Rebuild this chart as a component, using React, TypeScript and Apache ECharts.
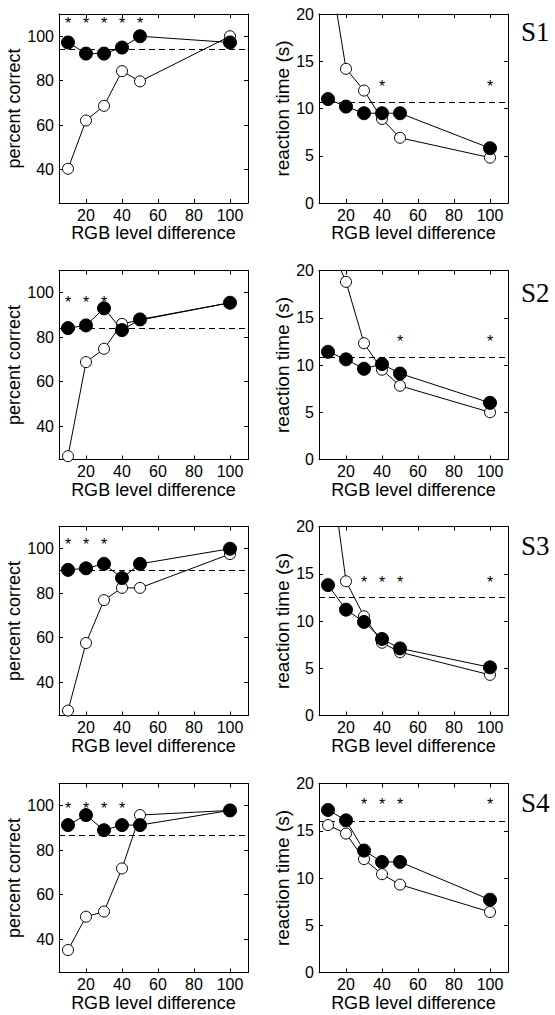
import React, { useEffect, useRef } from "react";
import * as echarts from "echarts";

const xLevels = [10, 20, 30, 40, 50, 100];
const xTicks = [20, 40, 60, 80, 100];
const accTicks = [40, 60, 80, 100];
const rtTicks = [0, 5, 10, 15, 20];
const subjects = ["S1", "S2", "S3", "S4"];

// percent correct
const accFilled = [
  [97.2, 92.2, 92.2, 94.9, 100, 97.2],
  [84.1, 85.3, 93.0, 83.2, 88.0, 95.5],
  [90.5, 91.2, 93.2, 86.8, 93.2, 100],
  [91.3, 95.8, 89.0, 91.3, 91.3, 97.9],
];
const accOpen = [
  [40.4, 62.1, 68.7, 84.3, 79.7, 100],
  [26.5, 68.8, 74.8, 86.0, 87.7, 95.5],
  [27.2, 57.6, 76.9, 82.4, 82.4, 97.6],
  [35.1, 50.1, 52.4, 71.8, 95.8, 97.9],
];
const accBaseline = [94.0, 84.1, 90.5, 86.9];
const accStarX = [
  [10, 20, 30, 40, 50],
  [10, 20, 30],
  [10, 20, 30],
  [10, 20, 30, 40],
];
const accStarY = [106.9, 97.0, 103.3, 100.0];

// reaction time
const rtFilled = [
  [11.0, 10.2, 9.5, 9.5, 9.5, 5.8],
  [11.4, 10.6, 9.6, 10.1, 9.1, 6.0],
  [13.8, 11.2, 9.9, 8.1, 7.1, 5.1],
  [17.2, 16.1, 12.9, 11.7, 11.7, 7.7],
];
const rtOpen = [
  [25.9, 14.2, 11.9, 8.9, 6.9, 4.8],
  [23.2, 18.8, 12.3, 9.5, 7.8, 5.0],
  [28.4, 14.2, 10.5, 7.7, 6.7, 4.3],
  [15.6, 14.7, 12.0, 10.4, 9.3, 6.4],
];
const rtBaseline = [10.7, 10.8, 12.5, 16.0];
const rtStarX = [
  [40, 100],
  [50, 100],
  [30, 40, 50, 100],
  [30, 40, 50, 100],
];
const rtStarY = [12.6, 12.8, 14.4, 18.1];

const gridTops = [14, 270.5, 526.5, 783.5];
const labelYs = [31.5, 293, 546, 803];
const FONT = "Liberation Sans";

function buildOption() {
  const grids: any[] = [];
  const xAxes: any[] = [];
  const yAxes: any[] = [];
  const series: any[] = [];
  const graphics: any[] = [];

  const tickStyle = { inside: true, length: 4, lineStyle: { color: "#000", width: 1 } };
  const lineStyle = { show: true, onZero: false, lineStyle: { color: "#000", width: 1 } };

  for (let r = 0; r < 4; r++) {
    for (let c = 0; c < 2; c++) {
      const g = grids.length;
      const isAcc = c === 0;
      grids.push({ left: isAcc ? 59 : 319, top: gridTops[r], width: 189, height: 189 });
      const ymin = isAcc ? 25 : 0;
      const ymax = isAcc ? 110 : 20;
      const yt = isAcc ? accTicks : rtTicks;
      xAxes.push({
        type: "value", gridIndex: g, min: 5, max: 110, position: "bottom",
        axisLine: lineStyle,
        axisTick: { ...tickStyle, customValues: xTicks },
        axisLabel: { customValues: xTicks, fontSize: 16, color: "#000", fontFamily: FONT, margin: 4 },
        splitLine: { show: false },
        name: "RGB level difference", nameLocation: "middle", nameGap: 21,
        nameTextStyle: { fontSize: 18, color: "#000", fontFamily: FONT },
      });
      xAxes.push({
        type: "value", gridIndex: g, min: 5, max: 110, position: "top",
        axisLine: lineStyle,
        axisTick: { ...tickStyle, customValues: xTicks },
        axisLabel: { show: false },
        splitLine: { show: false },
      });
      yAxes.push({
        type: "value", gridIndex: g, min: ymin, max: ymax, position: "left",
        axisLine: lineStyle,
        axisTick: { ...tickStyle, customValues: yt },
        axisLabel: { customValues: yt, fontSize: 16, color: "#000", fontFamily: FONT, margin: 5 },
        splitLine: { show: false },
        name: isAcc ? "percent correct" : "reaction time (s)", nameLocation: "middle",
        nameGap: isAcc ? 36 : 14,
        nameTextStyle: { fontSize: isAcc ? 18 : 19, color: "#000", fontFamily: FONT },
      });
      yAxes.push({
        type: "value", gridIndex: g, min: ymin, max: ymax, position: "right",
        axisLine: lineStyle,
        axisTick: { ...tickStyle, customValues: yt },
        axisLabel: { show: false },
        splitLine: { show: false },
      });
      const xi = g * 2;
      const yi = g * 2;
      const open = isAcc ? accOpen[r] : rtOpen[r];
      const filled = isAcc ? accFilled[r] : rtFilled[r];
      const base = isAcc ? accBaseline[r] : rtBaseline[r];
      const sx = isAcc ? accStarX[r] : rtStarX[r];
      const sy = isAcc ? accStarY[r] : rtStarY[r];
      series.push({
        type: "line", xAxisIndex: xi, yAxisIndex: yi, clip: true,
        data: xLevels.map((x, i) => [x, open[i]]),
        symbol: "circle", symbolSize: 11, showAllSymbol: true,
        lineStyle: { color: "#000", width: 1 },
        itemStyle: { color: "#fff", borderColor: "#000", borderWidth: 1 },
        z: 2,
      });
      series.push({
        type: "line", xAxisIndex: xi, yAxisIndex: yi, clip: true,
        data: xLevels.map((x, i) => [x, filled[i]]),
        symbol: "circle", symbolSize: 13, showAllSymbol: true,
        lineStyle: { color: "#000", width: 1 },
        itemStyle: { color: "#000", borderColor: "#000", borderWidth: 1 },
        z: 3,
        markLine: {
          silent: true, symbol: "none", label: { show: false },
          lineStyle: { color: "#000", width: 1, type: [6, 4] },
          data: [{ yAxis: base }],
          z: 1,
        },
      });
      series.push({
        type: "custom", xAxisIndex: xi, yAxisIndex: yi,
        data: sx.map((x) => [x, sy]),
        renderItem: (params: any, api: any) => {
          const p = api.coord([api.value(0), api.value(1)]);
          return {
            type: "text",
            x: p[0],
            y: p[1] + 3,
            style: {
              text: "*", fill: "#000", fontSize: 16, fontFamily: FONT,
              align: "center", verticalAlign: "middle",
            },
          };
        },
        z: 4,
      });
    }
    graphics.push({
      type: "text", x: 521, y: labelYs[r],
      style: {
        text: subjects[r], fontSize: 27, fontFamily: "Liberation Serif",
        fill: "#000", verticalAlign: "middle", align: "left",
      },
    });
  }

  return {
    animation: false,
    backgroundColor: "#fff",
    grid: grids,
    xAxis: xAxes,
    yAxis: yAxes,
    series,
    graphic: graphics,
  };
}

export default function App() {
  const ref = useRef<HTMLDivElement>(null);
  useEffect(() => {
    if (!ref.current) return;
    const chart = echarts.init(ref.current, undefined, { renderer: "svg" });
    chart.setOption(buildOption() as any);
    return () => chart.dispose();
  }, []);
  return (
    <div
      ref={ref}
      style={{ position: "absolute", left: 0, top: 0, width: 555, height: 1015, background: "#fff" }}
    />
  );
}
